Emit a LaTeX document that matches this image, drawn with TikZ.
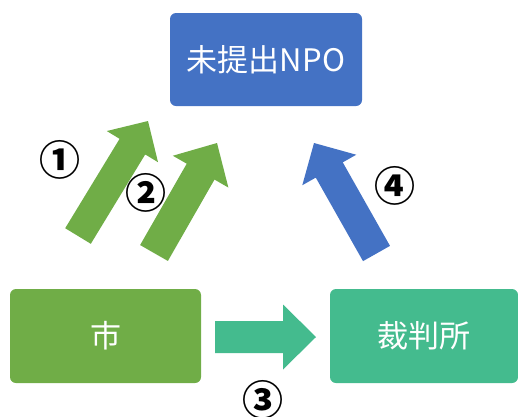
\documentclass[tikz,border=0pt]{standalone}
\usepackage{fontspec}
\usetikzlibrary{calc}
\newfontfamily\cjk{Noto Sans CJK JP}
\definecolor{cblue}{HTML}{4472C4}
\definecolor{cgreen}{HTML}{70AD47}
\definecolor{cteal}{HTML}{44BB8E}
\newcommand\blockarr[6]{% colour, tail, tip, half shaft, half head, head length
  \coordinate (hb) at ($(#3)!#6!(#2)$);
  \fill[#1] ($(#2)!#4!90:(#3)$) -- ($(hb)!#4!90:(#3)$) -- ($(hb)!#5!90:(#3)$) -- (#3)
    -- ($(hb)!#5!-90:(#3)$) -- ($(hb)!#4!-90:(#3)$) -- ($(#2)!#4!-90:(#3)$) -- cycle;}
\begin{document}
\begin{tikzpicture}[x=1pt,y=-1pt,
  box/.style={rounded corners=6pt, inner sep=0pt, text=white, font=\cjk\fontsize{31}{37}\selectfont},
  num/.style={inner sep=0pt, font=\cjk\bfseries\fontsize{41}{44}\selectfont}]
\useasboundingbox (0,0) rectangle (518,416);
\node[box, fill=cblue, minimum width=192pt, minimum height=93pt] (npo) at (266,59.5) {未提出NPO};
\node[box, fill=cgreen, minimum width=191pt, minimum height=94pt] (city) at (105.5,336) {市};
\node[box, fill=cteal, minimum width=188pt, minimum height=94pt] (court) at (424,336) {裁判所};
\coordinate (a1s) at (78,236);   \coordinate (a1e) at (148,121);
\coordinate (a2s) at (154,253);  \coordinate (a2e) at (217,143);
\coordinate (a3s) at (215,337);  \coordinate (a3e) at (316,337);
\coordinate (a4s) at (376.5,253.5); \coordinate (a4e) at (314,143);
\blockarr{cgreen}{a1s}{a1e}{15pt}{30pt}{30pt}
\blockarr{cgreen}{a2s}{a2e}{16pt}{32pt}{33pt}
\blockarr{cteal}{a3s}{a3e}{16pt}{32.5pt}{33pt}
\blockarr{cblue}{a4s}{a4e}{15.5pt}{31pt}{31pt}
\node[num] (n1) at (59.5,159.5) {①};
\node[num] (n2) at (145.5,192.5) {②};
\node[num] (n3) at (263,399.5) {③};
\node[num] (n4) at (394.5,185.5) {④};
\end{tikzpicture}
\end{document}
